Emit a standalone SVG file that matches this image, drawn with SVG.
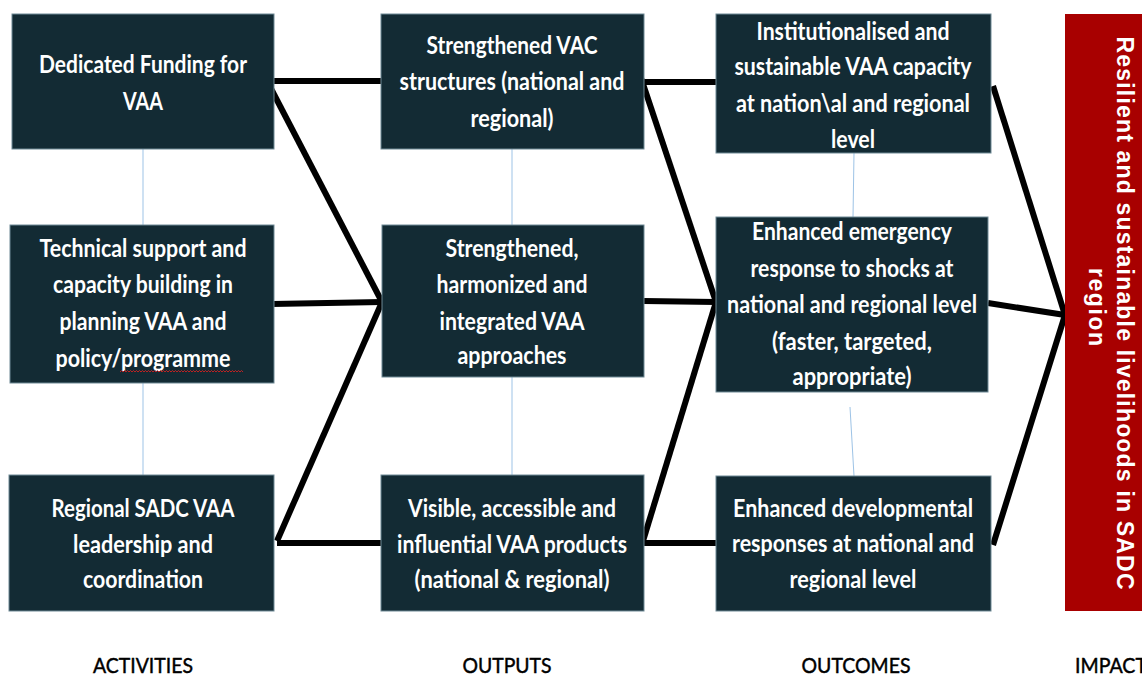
<svg xmlns="http://www.w3.org/2000/svg" width="1142" height="677" viewBox="0 0 1142 677">
  <style>
    .box { fill: #132b34; stroke: #6f8a95; stroke-width: 1; }
    .impact { fill: #a80000; }
    .t { font-family: Lato, "Liberation Sans", sans-serif; font-weight: bold; font-size: 25px; fill: #ffffff; text-anchor: middle; }
    .lbl { font-family: Lato, "Liberation Sans", sans-serif; font-size: 21px; fill: #000000; stroke: #000000; stroke-width: 0.45; text-anchor: middle; }
    .rt { font-family: "Liberation Sans", Arial, sans-serif; font-weight: bold; font-size: 23px; fill: #ffffff; text-anchor: middle; }
    .thick { fill: none; stroke: #000000; stroke-width: 6; stroke-linejoin: round; }
    .thin { fill: none; stroke: #9dc3e6; stroke-width: 1; }
  </style>
  <rect width="1142" height="677" fill="#ffffff"/>

  <!-- thin vertical guides between stacked boxes -->
  <g id="guides">
    <path class="thin" d="M143 149 V225 M143 383 V475"/>
    <path class="thin" d="M512 149 V225 M512 377 V475"/>
    <path class="thin" d="M854 153 L853 217 M850 407 L854 476"/>
  </g>

  <!-- heavy connectors -->
  <g id="connectors">
    <path class="thick" d="M274 81 H381"/>
    <path class="thick" d="M266 79 L382 302"/>
    <path class="thick" d="M272 304 L382 302"/>
    <path class="thick" d="M382 302 L277 541"/>
    <path class="thick" d="M277 543 H381"/>
    <path class="thick" d="M644 82 H716"/>
    <path class="thick" d="M640 75 L716 302"/>
    <path class="thick" d="M644 301 L716 302"/>
    <path class="thick" d="M716 302 L643 541"/>
    <path class="thick" d="M644 543 H716"/>
    <path class="thick" d="M993 86 L1065 315"/>
    <path class="thick" d="M988 303 L1065 315"/>
    <path class="thick" d="M993 545 L1065 315"/>
  </g>

  <!-- activities -->
  <g id="act-funding">
    <rect class="box" x="12" y="14" width="262" height="135"/>
    <text class="t" x="143" y="73" textLength="208" lengthAdjust="spacingAndGlyphs">Dedicated Funding for</text>
    <text class="t" x="143" y="110" textLength="40" lengthAdjust="spacingAndGlyphs">VAA</text>
  </g>
  <g id="act-technical">
    <rect class="box" x="10" y="225" width="264" height="158"/>
    <text class="t" x="143" y="257" textLength="207" lengthAdjust="spacingAndGlyphs">Technical support and</text>
    <text class="t" x="143" y="293" textLength="180" lengthAdjust="spacingAndGlyphs">capacity building in</text>
    <text class="t" x="143" y="330" textLength="167" lengthAdjust="spacingAndGlyphs">planning VAA and</text>
    <text class="t" x="143" y="367" textLength="175" lengthAdjust="spacingAndGlyphs">policy/programme</text>
    <path d="M120 372 l1.5 -1.5 l1.5 1.5 l1.5 -1.5 l1.5 1.5 l1.5 -1.5 l1.5 1.5 l1.5 -1.5 l1.5 1.5 l1.5 -1.5 l1.5 1.5 l1.5 -1.5 l1.5 1.5 l1.5 -1.5 l1.5 1.5 l1.5 -1.5 l1.5 1.5 l1.5 -1.5 l1.5 1.5 l1.5 -1.5 l1.5 1.5 l1.5 -1.5 l1.5 1.5 l1.5 -1.5 l1.5 1.5 l1.5 -1.5 l1.5 1.5 l1.5 -1.5 l1.5 1.5 l1.5 -1.5 l1.5 1.5 l1.5 -1.5 l1.5 1.5 l1.5 -1.5 l1.5 1.5 l1.5 -1.5 l1.5 1.5 l1.5 -1.5 l1.5 1.5 l1.5 -1.5 l1.5 1.5 l1.5 -1.5 l1.5 1.5 l1.5 -1.5 l1.5 1.5 l1.5 -1.5 l1.5 1.5 l1.5 -1.5 l1.5 1.5 l1.5 -1.5 l1.5 1.5 l1.5 -1.5 l1.5 1.5 l1.5 -1.5 l1.5 1.5 l1.5 -1.5 l1.5 1.5 l1.5 -1.5 l1.5 1.5 l1.5 -1.5 l1.5 1.5 l1.5 -1.5 l1.5 1.5 l1.5 -1.5 l1.5 1.5 l1.5 -1.5 l1.5 1.5 l1.5 -1.5 l1.5 1.5 l1.5 -1.5 l1.5 1.5 l1.5 -1.5 l1.5 1.5 l1.5 -1.5 l1.5 1.5 l1.5 -1.5 l1.5 1.5 l1.5 -1.5 l1.5 1.5 l1.5 -1.5 l1.5 1.5 l1.5 -1.5 l1.5 1.5" fill="none" stroke="#d02020" stroke-width="0.9"/>
  </g>
  <g id="act-leadership">
    <rect class="box" x="9" y="475" width="265" height="136"/>
    <text class="t" x="143" y="517" textLength="183" lengthAdjust="spacingAndGlyphs">Regional SADC VAA</text>
    <text class="t" x="143" y="553" textLength="140" lengthAdjust="spacingAndGlyphs">leadership and</text>
    <text class="t" x="143" y="588" textLength="120" lengthAdjust="spacingAndGlyphs">coordination</text>
  </g>

  <!-- outputs -->
  <g id="out-vac">
    <rect class="box" x="381" y="14" width="263" height="135"/>
    <text class="t" x="512" y="54" textLength="171" lengthAdjust="spacingAndGlyphs">Strengthened VAC</text>
    <text class="t" x="512" y="90" textLength="225" lengthAdjust="spacingAndGlyphs">structures (national and</text>
    <text class="t" x="512" y="127" textLength="83" lengthAdjust="spacingAndGlyphs">regional)</text>
  </g>
  <g id="out-approaches">
    <rect class="box" x="382" y="225" width="262" height="152"/>
    <text class="t" x="512" y="257" textLength="133" lengthAdjust="spacingAndGlyphs">Strengthened,</text>
    <text class="t" x="512" y="293" textLength="151" lengthAdjust="spacingAndGlyphs">harmonized and</text>
    <text class="t" x="512" y="330" textLength="145" lengthAdjust="spacingAndGlyphs">integrated VAA</text>
    <text class="t" x="512" y="364" textLength="109" lengthAdjust="spacingAndGlyphs">approaches</text>
  </g>
  <g id="out-products">
    <rect class="box" x="381" y="475" width="263" height="136"/>
    <text class="t" x="512" y="517" textLength="208" lengthAdjust="spacingAndGlyphs">Visible, accessible and</text>
    <text class="t" x="512" y="553" textLength="230" lengthAdjust="spacingAndGlyphs">influential VAA products</text>
    <text class="t" x="512" y="588" textLength="195" lengthAdjust="spacingAndGlyphs">(national &amp; regional)</text>
  </g>

  <!-- outcomes -->
  <g id="oc-capacity">
    <rect class="box" x="716" y="14" width="275" height="139"/>
    <text class="t" x="853" y="40" textLength="193" lengthAdjust="spacingAndGlyphs">Institutionalised and</text>
    <text class="t" x="853" y="75" textLength="237" lengthAdjust="spacingAndGlyphs">sustainable VAA capacity</text>
    <text class="t" x="853" y="112" textLength="234" lengthAdjust="spacingAndGlyphs">at nation\al and regional</text>
    <text class="t" x="853" y="148" textLength="44" lengthAdjust="spacingAndGlyphs">level</text>
  </g>
  <g id="oc-emergency">
    <rect class="box" x="716" y="217" width="272" height="175"/>
    <text class="t" x="852" y="240" textLength="200" lengthAdjust="spacingAndGlyphs">Enhanced emergency</text>
    <text class="t" x="852" y="277" textLength="203" lengthAdjust="spacingAndGlyphs">response to shocks at</text>
    <text class="t" x="852" y="313" textLength="250" lengthAdjust="spacingAndGlyphs">national and regional level</text>
    <text class="t" x="852" y="350" textLength="160" lengthAdjust="spacingAndGlyphs">(faster, targeted,</text>
    <text class="t" x="852" y="385" textLength="119" lengthAdjust="spacingAndGlyphs">appropriate)</text>
  </g>
  <g id="oc-developmental">
    <rect class="box" x="716" y="476" width="275" height="135"/>
    <text class="t" x="853" y="517" textLength="240" lengthAdjust="spacingAndGlyphs">Enhanced developmental</text>
    <text class="t" x="853" y="552" textLength="242" lengthAdjust="spacingAndGlyphs">responses at national and</text>
    <text class="t" x="853" y="588" textLength="127" lengthAdjust="spacingAndGlyphs">regional level</text>
  </g>

  <!-- impact -->
  <g id="impact">
    <rect class="impact" x="1065" y="14" width="90" height="597"/>
    <text class="rt" transform="translate(1117 313) rotate(90)" textLength="553" lengthAdjust="spacing">Resilient and sustainable livelihoods in SADC</text>
    <text class="rt" transform="translate(1089 307) rotate(90)" textLength="78" lengthAdjust="spacing">region</text>
  </g>

  <!-- column headings -->
  <g id="headings">
    <text class="lbl" x="143" y="673" textLength="100" lengthAdjust="spacingAndGlyphs">ACTIVITIES</text>
    <text class="lbl" x="507" y="673" textLength="89" lengthAdjust="spacingAndGlyphs">OUTPUTS</text>
    <text class="lbl" x="856" y="673" textLength="109" lengthAdjust="spacingAndGlyphs">OUTCOMES</text>
    <text class="lbl" x="1075" y="673" style="text-anchor:start" textLength="72" lengthAdjust="spacingAndGlyphs">IMPACT</text>
  </g>
</svg>
